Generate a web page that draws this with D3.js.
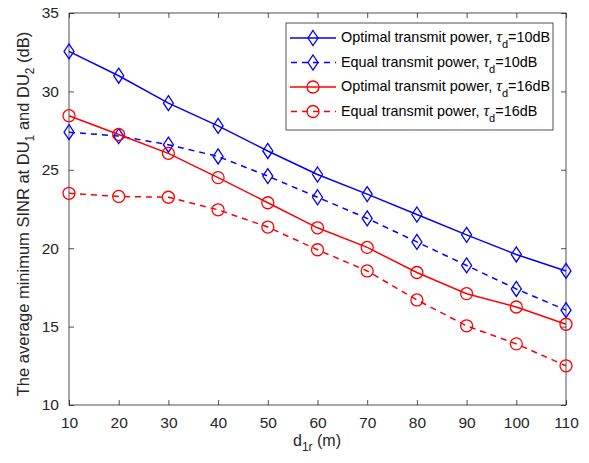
<!DOCTYPE html>
<html>
<head>
<meta charset="utf-8">
<script src="https://cdn.jsdelivr.net/npm/d3@7"></script>
<style>
  body { margin: 0; background: #fff; }
  svg { font-family: "Liberation Sans", Arial, sans-serif; }
</style>
</head>
<body>
<svg id="chart" width="589" height="463"></svg>
<script>
// data
const distances = [10, 20, 30, 40, 50, 60, 70, 80, 90, 100, 110];
const optimal10 = [32.55, 31.0, 29.25, 27.8, 26.2, 24.7, 23.45, 22.15, 20.85, 19.6, 18.55];
const equal10 = [27.4, 27.15, 26.6, 25.85, 24.6, 23.25, 21.9, 20.4, 18.9, 17.4, 16.05];
const optimal16 = [28.45, 27.25, 26.05, 24.5, 22.9, 21.3, 20.05, 18.45, 17.1, 16.25, 15.15];
const equal16 = [23.5, 23.3, 23.25, 22.45, 21.35, 19.9, 18.55, 16.7, 15.05, 13.9, 12.5];
const yTicks = [10, 15, 20, 25, 30, 35];

const series = [
  { name: "Optimal transmit power, ", tau: "10dB", values: optimal10, color: "#0000ff", dash: null, marker: "diamond" },
  { name: "Equal transmit power, ", tau: "10dB", values: equal10, color: "#0000ff", dash: "6,5", marker: "diamond" },
  { name: "Optimal transmit power, ", tau: "16dB", values: optimal16, color: "#ff0000", dash: null, marker: "circle" },
  { name: "Equal transmit power, ", tau: "16dB", values: equal16, color: "#ff0000", dash: "6,5", marker: "circle" }
];

const svg = d3.select("#chart");
const plotL = 69, plotR = 566, plotT = 13, plotB = 405;
const axisColor = "#262626";

const x = d3.scaleLinear().domain([10, 110]).range([plotL, plotR]);
const y = d3.scaleLinear().domain([10, 35]).range([plotB, plotT]);

// box
svg.append("rect")
  .attr("x", plotL).attr("y", plotT)
  .attr("width", plotR - plotL).attr("height", plotB - plotT)
  .attr("fill", "none").attr("stroke", axisColor).attr("stroke-width", 0.8);

// bottom axis, ticks pointing inward
svg.append("g").attr("transform", `translate(0,${plotB})`)
  .call(d3.axisBottom(x).tickValues(distances).tickSize(-5).tickPadding(12));
svg.append("g").attr("transform", `translate(${plotL},0)`)
  .call(d3.axisLeft(y).tickValues(yTicks).tickSize(-5).tickPadding(10));
// top and right ticks
svg.append("g").attr("transform", `translate(0,${plotT})`)
  .call(d3.axisTop(x).tickValues(distances).tickSize(-5).tickFormat(""));
svg.append("g").attr("transform", `translate(${plotR},0)`)
  .call(d3.axisRight(y).tickValues(yTicks).tickSize(-5).tickFormat(""));

svg.selectAll(".domain").remove();
svg.selectAll(".tick line").attr("stroke", axisColor).attr("stroke-width", 0.8);
svg.selectAll(".tick text").attr("fill", axisColor).style("font-size", "15.5px");

// lines and markers
const line = d3.line().x((d, i) => x(distances[i])).y(d => y(d));

function drawMarker(g, type, color) {
  if (type === "diamond") {
    g.append("path").attr("d", "M0,-7.5L5,0L0,7.5L-5,0Z")
      .attr("fill", "none").attr("stroke", color).attr("stroke-width", 1.3);
  } else {
    g.append("circle").attr("r", 6)
      .attr("fill", "none").attr("stroke", color).attr("stroke-width", 1.3);
  }
}

series.forEach(s => {
  svg.append("path")
    .datum(s.values)
    .attr("d", line)
    .attr("fill", "none")
    .attr("stroke", s.color)
    .attr("stroke-width", 1.5)
    .attr("stroke-dasharray", s.dash);
  s.values.forEach((v, i) => {
    const g = svg.append("g").attr("transform", `translate(${x(distances[i])},${y(v)})`);
    drawMarker(g, s.marker, s.color);
  });
});

// legend
const legend = svg.append("g");
legend.append("rect")
  .attr("x", 286).attr("y", 23).attr("width", 267).attr("height", 107)
  .attr("fill", "#fff").attr("stroke", axisColor).attr("stroke-width", 0.8);
series.forEach((s, i) => {
  const ry = 38 + i * 24.5;
  legend.append("line")
    .attr("x1", 290).attr("x2", 336).attr("y1", ry).attr("y2", ry)
    .attr("stroke", s.color).attr("stroke-width", 1.5)
    .attr("stroke-dasharray", s.dash ? "6,5" : null)
    .attr("stroke-dashoffset", s.dash ? -1 : null);
  drawMarker(legend.append("g").attr("transform", `translate(313,${ry})`), s.marker, s.color);
  const t = legend.append("text").attr("x", 341).attr("y", ry + 4)
    .attr("fill", "#000").style("font-size", "14.4px");
  t.append("tspan").text(s.name);
  t.append("tspan").attr("font-family", "Liberation Serif, serif").attr("font-style", "italic").style("font-size", "16px").text("τ");
  t.append("tspan").attr("dy", 6).style("font-size", "11px").text("d");
  t.append("tspan").attr("dy", -6).text("=" + s.tau);
});

// axis labels
const xl = svg.append("text")
  .attr("x", 317).attr("y", 446).attr("text-anchor", "middle")
  .attr("fill", axisColor).style("font-size", "16px");
xl.append("tspan").text("d");
xl.append("tspan").attr("dy", 5).style("font-size", "12px").text("1r");
xl.append("tspan").attr("dy", -5).text(" (m)");

const yl = svg.append("text")
  .attr("transform", `translate(29,214) rotate(-90)`)
  .attr("text-anchor", "middle")
  .attr("fill", axisColor).style("font-size", "16.5px");
yl.append("tspan").text("The average minimum SINR at DU");
yl.append("tspan").attr("dy", 5).style("font-size", "12px").text("1");
yl.append("tspan").attr("dy", -5).text(" and DU");
yl.append("tspan").attr("dy", 5).style("font-size", "12px").text("2");
yl.append("tspan").attr("dy", -5).text(" (dB)");
</script>
</body>
</html>
